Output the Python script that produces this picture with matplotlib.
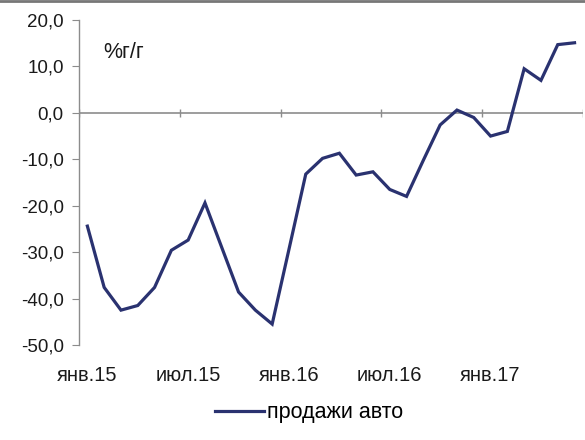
import matplotlib
matplotlib.use("Agg")
import matplotlib.pyplot as plt
import numpy as np

plt.rcParams['font.family'] = ['Liberation Sans', 'DejaVu Sans']

months = list(range(30))  # янв.15 .. июн.17
sales = [-24.4, -37.6, -42.5, -41.5, -37.6, -29.6, -27.4, -19.4, -29.0, -38.6,
         -42.5, -45.5, -29.4, -13.2, -9.8, -8.7, -13.4, -12.7, -16.5, -18.0,
         -10.2, -2.6, 0.6, -1.0, -5.0, -4.0, 9.5, 7.0, 14.7, 15.1]
tick_pos = [0, 6, 12, 18, 24]
tick_labels = ['янв.15', 'июл.15', 'янв.16', 'июл.16', 'янв.17']
yticks = [20, 10, 0, -10, -20, -30, -40, -50]
line_color = '#2a3270'
axis_color = '#8c8c8c'

fig = plt.figure(figsize=(5.85, 4.4), dpi=100)
ax = fig.add_axes([0.135, 0.216, 0.8615, 0.7385])

ax.plot(months, sales, color=line_color, lw=2.3, solid_joinstyle='miter',
        label='продажи авто', zorder=3)

ax.set_xlim(-0.5, 29.5)
ax.set_ylim(-50, 20)

for s in ['top', 'right', 'bottom']:
    ax.spines[s].set_visible(False)
ax.spines['left'].set_color(axis_color)
ax.spines['left'].set_linewidth(1.0)

ax.axhline(0, color=axis_color, lw=1.2, zorder=2)
bounds = np.arange(-0.5, 30, 6)
ax.vlines(bounds, -0.8, 0.8, color=axis_color, lw=1.0, zorder=2)

ax.set_yticks(yticks)
ax.set_yticklabels([f'{v:.1f}'.replace('.', ',') for v in yticks])
ax.tick_params(axis='y', direction='out', length=5, color=axis_color,
               labelsize=13.5, pad=6, labelcolor='#1a1a1a')
ax.set_xticks(tick_pos)
ax.set_xticklabels(tick_labels)
ax.tick_params(axis='x', length=0, labelsize=14.5, pad=15, labelcolor='#1a1a1a')

ax.text(0.048, 0.9, '%г/г', transform=ax.transAxes, fontsize=15.5,
        color='#1a1a1a', ha='left', va='center')

leg = fig.legend(loc='center', bbox_to_anchor=(0.528, 0.062), frameon=False,
                 fontsize=15.5, handlelength=2.3, handletextpad=0.1)

fig.add_artist(plt.Line2D([0, 1], [0.997, 0.997], transform=fig.transFigure,
                          color='#777777', lw=2))

fig.savefig('out.png', dpi=100, facecolor='white')
